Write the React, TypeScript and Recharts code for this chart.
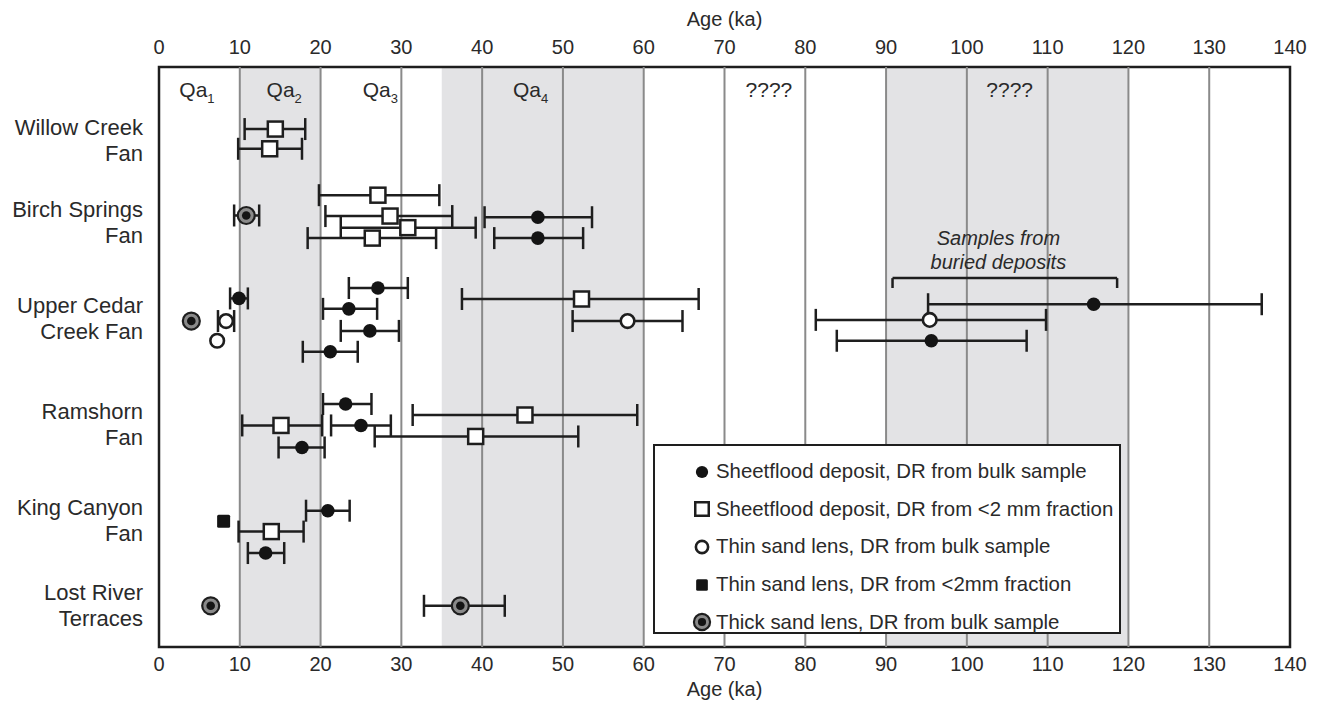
import React from "react";
import {
  ComposedChart,
  Scatter,
  XAxis,
  YAxis,
  ErrorBar,
  ReferenceArea,
  ReferenceLine,
  ReferenceDot,
  Legend,
} from "recharts";

// ---- Data -------------------------------------------------------------
// Each sample: [age (ka), vertical row position (0 = top, 100 = bottom), error low, error high]
const AGE_TICKS = [0, 10, 20, 30, 40, 50, 60, 70, 80, 90, 100, 110, 120, 130, 140];

const CATEGORY_LABELS = [
  ["Willow Creek", "Fan"],
  ["Birch Springs", "Fan"],
  ["Upper Cedar", "Creek Fan"],
  ["Ramshorn", "Fan"],
  ["King Canyon", "Fan"],
  ["Lost River", "Terraces"],
];
const CATEGORY_POS = [12.6, 26.7, 43.2, 61.5, 78.1, 92.8];

const sheetfloodBulk = [
  [46.9, 25.9, 40.3, 53.6],
  [46.9, 29.5, 41.5, 52.5],
  [27.1, 38.1, 23.5, 30.8],
  [9.9, 39.9, 8.8, 11.0],
  [115.7, 40.9, 95.2, 136.5],
  [23.5, 41.7, 20.3, 27.0],
  [26.1, 45.5, 22.5, 29.7],
  [95.6, 47.2, 83.9, 107.4],
  [21.2, 49.1, 17.8, 24.6],
  [23.1, 58.1, 20.3, 26.3],
  [25.0, 61.8, 21.3, 28.7],
  [17.7, 65.6, 14.8, 20.5],
  [20.9, 76.5, 18.2, 23.6],
  [13.2, 83.8, 11.0, 15.5],
];

const sheetfloodFine = [
  [14.4, 10.7, 10.6, 18.1],
  [13.7, 14.1, 9.8, 17.7],
  [27.1, 22.1, 19.8, 34.7],
  [28.6, 25.7, 20.6, 36.3],
  [30.8, 27.7, 22.5, 39.2],
  [26.4, 29.5, 18.4, 34.3],
  [52.3, 40.0, 37.5, 66.8],
  [45.3, 60.0, 31.4, 59.2],
  [15.1, 61.8, 10.3, 20.2],
  [39.2, 63.7, 26.7, 51.9],
  [13.9, 80.1, 9.85, 17.9],
];

const thinSandBulk = [
  [58.0, 43.8, 51.2, 64.8],
  [8.3, 43.8, 7.3, 9.3],
  [7.2, 47.2, null, null],
  [95.4, 43.6, 81.3, 109.8],
];

const thinSandFine = [[8.0, 78.3, null, null]];

const thickSandBulk = [
  [10.8, 25.6, 9.3, 12.4],
  [4.0, 43.8, null, null],
  [6.4, 92.9, null, null],
  [37.3, 92.9, 32.8, 42.8],
];

const ZONE_BANDS = [
  [10, 20],
  [35, 60],
  [90, 120],
];
const GRID_LINES = [10, 20, 30, 40, 50, 60, 70, 80, 90, 100, 110, 120, 130];

const ZONE_LABELS = [
  { x: 4.7, y: 4.0, text: "Qa", sub: "1" },
  { x: 15.5, y: 4.0, text: "Qa", sub: "2" },
  { x: 27.4, y: 4.0, text: "Qa", sub: "3" },
  { x: 46.0, y: 4.0, text: "Qa", sub: "4" },
  { x: 75.5, y: 4.0, text: "????", sub: "" },
  { x: 105.3, y: 4.0, text: "????", sub: "" },
];

const BURIED_NOTE = { x: 103.9, lines: ["Samples from", "buried deposits"], y: [29.5, 33.6] };
const BRACKET = { x1: 90.8, x2: 118.6, y: 36.4, yTick: 38.1 };

const LEGEND_ITEMS = [
  { kind: "filledCircle", label: "Sheetflood deposit, DR from bulk sample" },
  { kind: "openSquare", label: "Sheetflood deposit, DR from <2 mm fraction" },
  { kind: "openCircle", label: "Thin sand lens, DR from bulk sample" },
  { kind: "filledSquare", label: "Thin sand lens, DR from <2mm fraction" },
  { kind: "thickLens", label: "Thick sand lens, DR from bulk sample" },
];

// ---- Helpers -----------------------------------------------------------
const toData = (arr: any[]) =>
  arr.map(([x, y, lo, hi]) => ({
    x,
    y,
    err: lo == null ? null : [x - lo, hi - x],
  }));
const withErr = (arr: any[]) => toData(arr).filter((d) => d.err != null);

const FONT = "'Liberation Sans', Arial, Helvetica, sans-serif";
const INK = "#1e1e1e";
const TEXT = "#2a2a2a";

const drawMarker = (kind: string, cx: number, cy: number, s = 1) => {
  switch (kind) {
    case "filledCircle":
      return <circle cx={cx} cy={cy} r={6.8 * s} fill="#141414" />;
    case "openSquare":
      return (
        <rect
          x={cx - 7.5 * s}
          y={cy - 7.5 * s}
          width={15 * s}
          height={15 * s}
          fill="#fff"
          stroke={INK}
          strokeWidth={2.5}
        />
      );
    case "openCircle":
      return <circle cx={cx} cy={cy} r={6.8 * s} fill="#fff" stroke={INK} strokeWidth={2.6} />;
    case "filledSquare":
      return (
        <rect x={cx - 6.5 * s} y={cy - 6.5 * s} width={13 * s} height={13 * s} fill="#141414" rx={1.5} />
      );
    case "thickLens":
      return (
        <g>
          <circle cx={cx} cy={cy} r={8.5 * s} fill="#8a8a8a" stroke={INK} strokeWidth={2.2} />
          <circle cx={cx} cy={cy} r={4.3 * s} fill="#141414" />
        </g>
      );
    default:
      return null;
  }
};

const shapeOf = (kind: string) => (props: any) => drawMarker(kind, props.cx, props.cy);
const noShape = () => <g />;

const CategoryTick = (props: any) => {
  const { x, y, payload } = props;
  const idx = CATEGORY_POS.indexOf(payload.value);
  const lines = idx >= 0 ? CATEGORY_LABELS[idx] : ["", ""];
  return (
    <text x={x} y={y} textAnchor="end" fontFamily={FONT} fontSize={22} fill={TEXT}>
      <tspan x={x} y={y - 13 + 8}>
        {lines[0]}
      </tspan>
      <tspan x={x} y={y + 13 + 8}>
        {lines[1]}
      </tspan>
    </text>
  );
};

const ZoneLabelShape = (item: any) => (props: any) => (
  <text x={props.cx} y={props.cy + 7} textAnchor="middle" fontFamily={FONT} fontSize={21} fill={TEXT}>
    <tspan>{item.text}</tspan>
    {item.sub ? (
      <tspan fontSize={13} dy={6}>
        {item.sub}
      </tspan>
    ) : null}
  </text>
);

const NoteShape = (text: string) => (props: any) => (
  <text
    x={props.cx}
    y={props.cy + 7}
    textAnchor="middle"
    fontFamily={FONT}
    fontSize={20}
    fontStyle="italic"
    fill={TEXT}
  >
    {text}
  </text>
);

const LegendContent = () => (
  <div
    style={{
      boxSizing: "border-box",
      width: 468,
      height: 190,
      border: `2.5px solid ${INK}`,
      background: "#fff",
      padding: "7px 0 0 36px",
      fontFamily: FONT,
      fontSize: 20.4,
      color: TEXT,
    }}
  >
    {LEGEND_ITEMS.map((it) => (
      <div key={it.label} style={{ display: "flex", alignItems: "center", height: 37.6 }}>
        <svg width={22} height={22} style={{ marginRight: 3, flexShrink: 0 }}>
          {drawMarker(it.kind, 11, 11, it.kind === "thickLens" ? 0.95 : 0.9)}
        </svg>
        <span style={{ whiteSpace: "nowrap" }}>{it.label}</span>
      </div>
    ))}
  </div>
);

const SERIES = [
  { name: "Sheetflood deposit, DR from bulk sample", data: sheetfloodBulk, kind: "filledCircle" },
  { name: "Sheetflood deposit, DR from <2 mm fraction", data: sheetfloodFine, kind: "openSquare" },
  { name: "Thin sand lens, DR from bulk sample", data: thinSandBulk, kind: "openCircle" },
  { name: "Thin sand lens, DR from <2mm fraction", data: thinSandFine, kind: "filledSquare" },
  { name: "Thick sand lens, DR from bulk sample", data: thickSandBulk, kind: "thickLens" },
];

export default function App() {
  return (
    <div style={{ position: "absolute", left: 0, top: 0, width: 1322, height: 706, background: "#fff" }}>
      <ComposedChart
        width={1322}
        height={706}
        margin={{ top: 0, right: 32, bottom: 0, left: 0 }}
        style={{ fontFamily: FONT }}
      >
        <XAxis
          xAxisId={0}
          dataKey="x"
          type="number"
          orientation="bottom"
          domain={[0, 140]}
          ticks={AGE_TICKS}
          height={59}
          tickLine={false}
          axisLine={false}
          tickMargin={4}
          tick={{ fontSize: 20, fill: TEXT, fontFamily: FONT }}
          allowDataOverflow
          label={{ value: "Age (ka)", position: "insideBottom", offset: 10, fontSize: 20, fill: TEXT, fontFamily: FONT }}
        />
        <XAxis
          xAxisId="top"
          dataKey="x"
          type="number"
          orientation="top"
          domain={[0, 140]}
          ticks={AGE_TICKS}
          height={67}
          tickLine={false}
          axisLine={false}
          tickMargin={7}
          tick={{ fontSize: 20, fill: TEXT, fontFamily: FONT }}
          allowDataOverflow
          label={{ value: "Age (ka)", position: "insideTop", offset: 12, fontSize: 20, fill: TEXT, fontFamily: FONT }}
        />
        <YAxis
          yAxisId={0}
          dataKey="y"
          type="number"
          domain={[0, 100]}
          reversed
          ticks={CATEGORY_POS}
          width={159}
          tickLine={false}
          axisLine={false}
          tickMargin={10}
          tick={<CategoryTick />}
          interval={0}
          allowDataOverflow
        />

        {ZONE_BANDS.map(([a, b]) => (
          <ReferenceArea
            key={`band-${a}`}
            x1={a}
            x2={b}
            y1={0}
            y2={100}
            fill="#e3e3e5"
            fillOpacity={1}
            stroke="none"
            ifOverflow="visible"
          />
        ))}
        {GRID_LINES.map((g) => (
          <ReferenceLine key={`grid-${g}`} x={g} stroke="#8a8a8a" strokeWidth={2} ifOverflow="visible" />
        ))}
        <ReferenceArea
          x1={0}
          x2={140}
          y1={0}
          y2={100}
          fill="none"
          stroke={INK}
          strokeWidth={2.5}
          ifOverflow="visible"
        />

        {ZONE_LABELS.map((z) => (
          <ReferenceDot key={`zl-${z.x}`} x={z.x} y={z.y} r={0} shape={ZoneLabelShape(z)} ifOverflow="visible" />
        ))}
        {BURIED_NOTE.lines.map((t, i) => (
          <ReferenceDot
            key={`note-${i}`}
            x={BURIED_NOTE.x}
            y={BURIED_NOTE.y[i]}
            r={0}
            shape={NoteShape(t)}
            ifOverflow="visible"
          />
        ))}
        <ReferenceLine
          segment={[
            { x: BRACKET.x1, y: BRACKET.y },
            { x: BRACKET.x2, y: BRACKET.y },
          ]}
          stroke={INK}
          strokeWidth={2.5}
          ifOverflow="visible"
        />
        <ReferenceLine
          segment={[
            { x: BRACKET.x1, y: BRACKET.y },
            { x: BRACKET.x1, y: BRACKET.yTick },
          ]}
          stroke={INK}
          strokeWidth={2.5}
          ifOverflow="visible"
        />
        <ReferenceLine
          segment={[
            { x: BRACKET.x2, y: BRACKET.y },
            { x: BRACKET.x2, y: BRACKET.yTick },
          ]}
          stroke={INK}
          strokeWidth={2.5}
          ifOverflow="visible"
        />

        {/* error bars first (invisible points), so markers sit on top */}
        {SERIES.map((s, i) => (
          <Scatter
            key={`err-${s.name}`}
            name={`${s.name} error`}
            data={withErr(s.data)}
            dataKey="y"
            xAxisId={i === 0 ? "top" : 0}
            shape={noShape}
            legendType="none"
            isAnimationActive={false}
          >
            <ErrorBar dataKey="err" direction="x" width={11} stroke={INK} strokeWidth={2.5} />
          </Scatter>
        ))}
        {SERIES.map((s) => (
          <Scatter
            key={s.name}
            name={s.name}
            data={toData(s.data)}
            dataKey="y"
            shape={shapeOf(s.kind)}
            isAnimationActive={false}
          />
        ))}

        <Legend
          layout="vertical"
          align="center"
          verticalAlign="middle"
          content={<LegendContent />}
          wrapperStyle={{ left: 653, top: 444, width: 468, height: 190 }}
        />
      </ComposedChart>
    </div>
  );
}
